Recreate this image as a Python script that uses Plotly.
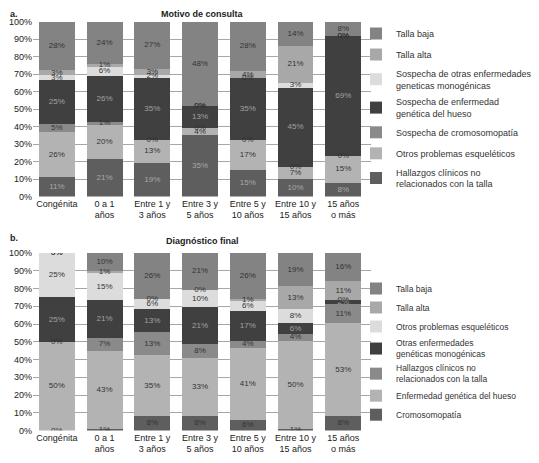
import plotly.graph_objects as go

# --- data ---
categorias = ["Congénita", "0 a 1<br>años", "Entre 1 y<br>3 años", "Entre 3 y<br>5 años",
              "Entre 5 y<br>10 años", "Entre 10 y<br>15 años", "15 años<br>o más"]

# a. Motivo de consulta (bottom -> top of the stack)
motivo_series = [
    "Hallazgos clínicos no<br>relacionados con la talla",
    "Otros problemas esqueléticos",
    "Sospecha de cromosomopatía",
    "Sospecha de enfermedad<br>genética del hueso",
    "Sospecha de otras enfermedades<br>geneticas monogénicas",
    "Talla alta",
    "Talla baja",
]
motivo_hallazgos = [11, 21, 19, 35, 15, 10, 8]
motivo_otros_esq = [26, 20, 13, 4, 17, 7, 15]
motivo_cromosomo = [5, 1, 0, 0, 0, 0, 0]
motivo_hueso = [25, 26, 35, 13, 35, 45, 69]
motivo_monogen = [3, 6, 2, 0, 0, 3, 0]
motivo_talla_alta = [3, 1, 3, 0, 4, 21, 0]
motivo_talla_baja = [28, 24, 27, 48, 28, 14, 8]

# b. Diagnóstico final (bottom -> top of the stack)
diag_series = [
    "Cromosomopatía",
    "Enfermedad genética del hueso",
    "Hallazgos clínicos no<br>relacionados con la talla",
    "Otras enfermedades<br>genéticas monogénicas",
    "Otros problemas esqueléticos",
    "Talla alta",
    "Talla baja",
]
diag_cromosomo = [0, 1, 8, 8, 6, 1, 8]
diag_hueso = [50, 43, 35, 33, 41, 50, 53]
diag_hallazgos = [0, 7, 13, 8, 4, 4, 11]
diag_monogen = [25, 21, 13, 21, 17, 6, 2]
diag_otros_esq = [25, 15, 6, 10, 6, 8, 0]
diag_talla_alta = [0, 1, 0, 0, 1, 13, 11]
diag_talla_baja = [0, 10, 26, 21, 26, 19, 16]

motivo_vals = [motivo_hallazgos, motivo_otros_esq, motivo_cromosomo, motivo_hueso,
               motivo_monogen, motivo_talla_alta, motivo_talla_baja]
diag_vals = [diag_cromosomo, diag_hueso, diag_hallazgos, diag_monogen,
             diag_otros_esq, diag_talla_alta, diag_talla_baja]

# --- styles ---
motivo_colors = ["#5e5e5e", "#b3b3b3", "#8a8a8a", "#404040", "#dcdcdc", "#a8a8a8", "#838383"]
motivo_text = ["#a8a8a8", "#333333", "#333333", "#a0a0a0", "#333333", "#333333", "#333333"]
diag_colors = ["#5e5e5e", "#b3b3b3", "#8a8a8a", "#404040", "#dcdcdc", "#a8a8a8", "#838383"]
diag_text = ["#333333", "#333333", "#333333", "#a0a0a0", "#333333", "#333333", "#333333"]

# the page puts the plot 8px in from the top-left, so work in reference pixels minus 8
OFF = 8
W, H = 539 - OFF, 463 - OFF


def px(x):
    return (x - OFF) / W


def py(y):
    return 1 - (y - OFF) / H


x_dom = [px(33), px(371)]
ya_dom = [py(196.5), py(21.5)]
yb_dom = [py(430.5), py(253)]
FONT = "Liberation Sans, Arial, sans-serif"

fig = go.Figure()


def add_panel(names, vals, colors, tcolors, xaxis, yaxis, legend):
    totals = [sum(v[i] for v in vals) for i in range(len(categorias))]
    base = [0.0] * len(categorias)
    for i, (name, v, c, tc) in enumerate(zip(names, vals, colors, tcolors)):
        fig.add_trace(go.Bar(
            x=categorias, y=v, name=name, marker=dict(color=c, line=dict(width=0)),
            xaxis=xaxis, yaxis=yaxis, legend=legend, legendgroup=legend + name,
            legendrank=1000 - 10 * i,  # top of the stack first in the legend
            hoverinfo="skip",
        ))
        mids = [100 * (b + val / 2) / t for b, val, t in zip(base, v, totals)]
        fig.add_trace(go.Scatter(
            x=categorias, y=mids, mode="text", text=[f"{val}%" for val in v],
            textfont=dict(size=8, color=tc, family=FONT), showlegend=False,
            xaxis=xaxis, yaxis=yaxis, hoverinfo="skip",
        ))
        base = [b + val for b, val in zip(base, v)]


add_panel(motivo_series, motivo_vals, motivo_colors, motivo_text, "x", "y", "legend")
add_panel(diag_series, diag_vals, diag_colors, diag_text, "x2", "y2", "legend2")

axis_x = dict(domain=x_dom, showgrid=False, ticks="", showline=False, automargin=False,
              tickfont=dict(size=9, color="#222", family=FONT), range=[-0.5, 6.58])
axis_y = dict(range=[0, 100], tickvals=list(range(0, 101, 10)),
              ticktext=[f"{t}%" for t in range(0, 101, 10)], automargin=False,
              showgrid=True, gridcolor="#a6a6a6", gridwidth=1, zeroline=False,
              tickfont=dict(size=9, color="#222", family=FONT), ticks="", showline=False)

legend_style = dict(traceorder="grouped", bgcolor="rgba(0,0,0,0)", itemwidth=30,
                    xanchor="left", yanchor="top")

fig.update_layout(
    width=W, height=H,
    margin=dict(l=0, r=0, t=0, b=0, autoexpand=False),
    paper_bgcolor="white", plot_bgcolor="white",
    barmode="stack", barnorm="percent", bargap=0.25,
    font=dict(family=FONT, color="#222"),
    xaxis=dict(axis_x, anchor="y"),
    yaxis=dict(axis_y, domain=ya_dom, anchor="x"),
    xaxis2=dict(axis_x, anchor="y2"),
    yaxis2=dict(axis_y, domain=yb_dom, anchor="x2"),
    legend=dict(legend_style, x=px(356), y=py(19), tracegroupgap=2,
                font=dict(size=9, color="#333", family=FONT)),
    legend2=dict(legend_style, x=px(356), y=py(274), tracegroupgap=0,
                 font=dict(size=8.5, color="#333", family=FONT)),
    annotations=[
        dict(text="<b>a.</b>", x=px(8), y=py(14), xref="paper", yref="paper",
             showarrow=False, xanchor="left", yanchor="middle", font=dict(size=9)),
        dict(text="<b>Motivo de consulta</b>", x=(x_dom[0] + x_dom[1]) / 2, y=py(14),
             xref="paper", yref="paper", showarrow=False, yanchor="middle", font=dict(size=9)),
        dict(text="<b>b.</b>", x=px(8), y=py(238), xref="paper", yref="paper",
             showarrow=False, xanchor="left", yanchor="middle", font=dict(size=9)),
        dict(text="<b>Diagnóstico final</b>", x=(x_dom[0] + x_dom[1]) / 2, y=py(241),
             xref="paper", yref="paper", showarrow=False, yanchor="middle", font=dict(size=9)),
    ],
)

fig.write_html("out.html")
